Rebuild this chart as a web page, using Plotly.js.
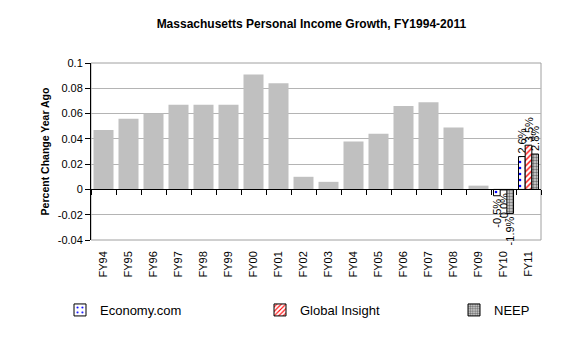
<!DOCTYPE html>
<html>
<head>
<meta charset="utf-8">
<script src="https://cdn.plot.ly/plotly-3.0.1.min.js"></script>
<style>html,body{margin:0;padding:0;background:#fff;}#chart{width:582px;height:359px;}</style>
</head>
<body>
<div id="chart"></div>
<script>
const categories = ["FY94","FY95","FY96","FY97","FY98","FY99","FY00","FY01","FY02","FY03","FY04","FY05","FY06","FY07","FY08","FY09","FY10","FY11"];
const actual = [0.047,0.056,0.060,0.067,0.067,0.067,0.091,0.084,0.010,0.006,0.038,0.044,0.066,0.069,0.049,0.003,null,null];
const economyCom = [null,null,null,null,null,null,null,null,null,null,null,null,null,null,null,null,-0.005,0.026];
const globalInsight = [null,null,null,null,null,null,null,null,null,null,null,null,null,null,null,null,-0.0004,0.035];
const neep = [null,null,null,null,null,null,null,null,null,null,null,null,null,null,null,null,-0.019,0.028];
const economyLabels = ["","","","","","","","","","","","","","","","","-0.5%","2.6%"];
const globalLabels = ["","","","","","","","","","","","","","","","","-0.0%","3.5%"];
const neepLabels = ["","","","","","","","","","","","","","","","","-1.9%","2.8%"];
const yTicks = [-0.04,-0.02,0,0.02,0.04,0.06,0.08,0.1];
const yTickText = ["-0.04","-0.02","0","0.02","0.04","0.06","0.08","0.1"];

const FONT = "Arial, 'Liberation Sans', sans-serif";
const fw = 0.267;
const labelFont = {family: FONT, size: 11, color: "#000"};

const traces = [
  {type:"bar", x:categories, y:actual, name:"Actual", showlegend:false,
   marker:{color:"#c0c0c0", line:{width:0}}, width:0.8, hoverinfo:"x+y"},
  {type:"bar", x:categories, y:economyCom, name:"Economy.com", legend:"legend",
   width:fw, offset:-0.4, constraintext:"none",
   marker:{color:"#ffffff", line:{color:"#000", width:1},
     pattern:{shape:".", fgcolor:"#0000ff", bgcolor:"#ffffff", size:6, solidity:0.15}},
   text:economyLabels, textposition:"outside", textangle:-90, cliponaxis:false,
   textfont:labelFont, outsidetextfont:labelFont},
  {type:"bar", x:categories, y:globalInsight, name:"Global Insight", legend:"legend2",
   width:fw, offset:-0.4+fw, constraintext:"none",
   marker:{color:"#ffffff", line:{color:"#000", width:1},
     pattern:{shape:"/", fgcolor:"#ff0000", bgcolor:"#ffffff", size:4, solidity:0.35}},
   text:globalLabels, textposition:"outside", textangle:-90, cliponaxis:false,
   textfont:labelFont, outsidetextfont:labelFont},
  {type:"bar", x:categories, y:neep, name:"NEEP", legend:"legend3",
   width:fw, offset:-0.4+2*fw, constraintext:"none",
   marker:{color:"#c0c0c0", line:{color:"#000", width:1},
     pattern:{shape:".", fgcolor:"#707070", bgcolor:"#d8d8d8", size:3, solidity:0.5}},
   text:neepLabels, textposition:"outside", textangle:-90, cliponaxis:false,
   textfont:labelFont, outsidetextfont:labelFont},
  {type:"scatter", x:[], y:[], xaxis:"x2", yaxis:"y", showlegend:false, hoverinfo:"skip"}
];

function legendAt(px) {
  return {orientation:"h", xref:"container", yref:"container", x:px/582, y:1-310/359,
    xanchor:"left", yanchor:"middle", itemwidth:30,
    font:{family:FONT, size:13, color:"#000"}, bgcolor:"rgba(0,0,0,0)"};
}

const layout = {
  width:582, height:359,
  margin:{l:91, r:41, t:63, b:119, pad:0},
  paper_bgcolor:"#fff", plot_bgcolor:"#fff",
  font:{family:FONT, size:11, color:"#000"},
  barmode:"overlay",
  title:{text:"<b>Massachusetts Personal Income Growth, FY1994-2011</b>",
    font:{family:FONT, size:12, color:"#000"}, x:0.535, xanchor:"center", y:0.935, yanchor:"middle"},
  xaxis:{type:"category", categoryarray:categories, range:[-0.5,17.5],
    showline:false, showgrid:false, zeroline:false, ticks:"", tickangle:-90,
    ticklabelstandoff:8, tickfont:{family:FONT, size:11, color:"#000"}, fixedrange:true},
  xaxis2:{overlaying:"x", anchor:"free", position:0.04/0.14, type:"linear",
    range:[-0.5,17.5], tick0:-0.5, dtick:1, showticklabels:false,
    showline:true, linecolor:"#000", linewidth:1, ticks:"outside", ticklen:5,
    tickcolor:"#000", showgrid:false, zeroline:false, fixedrange:true},
  yaxis:{range:[-0.04,0.1], tickvals:yTicks, ticktext:yTickText,
    showline:true, linecolor:"#000", linewidth:1, ticks:"outside", ticklen:5, tickcolor:"#000",
    showgrid:true, gridcolor:"#b4b4b4", gridwidth:1, zeroline:false,
    tickfont:{family:FONT, size:11, color:"#000"},
    title:{text:"<b>Percent Change Year Ago</b>", font:{family:FONT, size:10.5, color:"#000"}, standoff:6},
    fixedrange:true},
  shapes:[{type:"rect", xref:"paper", yref:"paper", x0:0, x1:1, y0:0, y1:1,
    line:{color:"#a0a0a0", width:1}, layer:"below"}],
  legend:legendAt(60),
  legend2:legendAt(260),
  legend3:legendAt(454),
  showlegend:true
};

Plotly.newPlot("chart", traces, layout, {staticPlot:true, displayModeBar:false});
</script>
</body>
</html>
